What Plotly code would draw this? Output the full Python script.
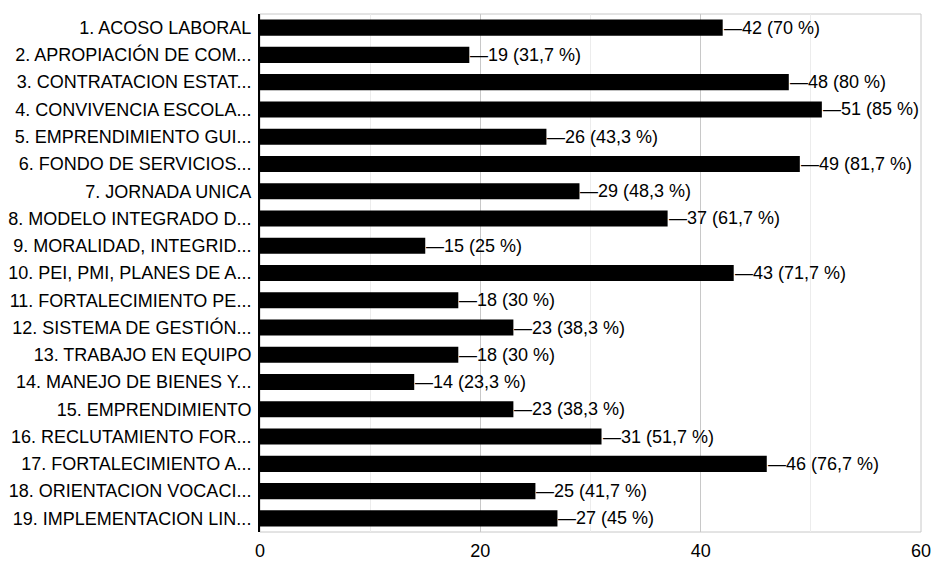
import plotly.graph_objects as go

categories = [
    "1. ACOSO LABORAL",
    "2. APROPIACIÓN DE COM...",
    "3. CONTRATACION ESTAT...",
    "4. CONVIVENCIA ESCOLA...",
    "5. EMPRENDIMIENTO GUI...",
    "6. FONDO DE SERVICIOS...",
    "7. JORNADA UNICA",
    "8. MODELO INTEGRADO D...",
    "9. MORALIDAD, INTEGRID...",
    "10. PEI, PMI, PLANES DE A...",
    "11. FORTALECIMIENTO PE...",
    "12. SISTEMA DE GESTIÓN...",
    "13. TRABAJO EN EQUIPO",
    "14. MANEJO DE BIENES Y...",
    "15. EMPRENDIMIENTO",
    "16. RECLUTAMIENTO FOR...",
    "17. FORTALECIMIENTO A...",
    "18. ORIENTACION VOCACI...",
    "19. IMPLEMENTACION LIN...",
]
counts = [42, 19, 48, 51, 26, 49, 29, 37, 15, 43, 18, 23, 18, 14, 23, 31, 46, 25, 27]
percents = ["70", "31,7", "80", "85", "43,3", "81,7", "48,3", "61,7", "25", "71,7",
            "30", "38,3", "30", "23,3", "38,3", "51,7", "76,7", "41,7", "45"]
x_ticks = [0, 20, 40, 60]

FONT = "Liberation Sans, Arial, sans-serif"

fig = go.Figure()
fig.add_trace(go.Bar(
    x=counts, y=categories, orientation="h",
    marker=dict(color="#000000", line=dict(width=0)),
    hoverinfo="skip",
))

for c, v, p in zip(categories, counts, percents):
    fig.add_annotation(
        x=v, y=c, xref="x", yref="y",
        text=f"—{v} ({p} %)", showarrow=False,
        xanchor="left", yanchor="middle",
        font=dict(family=FONT, size=18, color="#000000"),
        borderpad=0,
    )

fig.add_shape(type="rect", xref="paper", yref="paper", x0=0, x1=1, y0=0, y1=1,
              line=dict(color="#c8c8c8", width=1), layer="below")

fig.update_layout(
    width=933, height=566,
    margin=dict(l=260, r=12, t=14, b=34),
    paper_bgcolor="white", plot_bgcolor="white",
    showlegend=False,
    bargap=0.41,
    font=dict(family=FONT, size=18, color="#000000"),
    xaxis=dict(
        range=[0, 60], tickvals=x_ticks, ticktext=[str(t) for t in x_ticks],
        showgrid=True, gridcolor="#c8c8c8", gridwidth=1,
        minor=dict(dtick=10, showgrid=True, gridcolor="#ececec"),
        zeroline=False, showline=False, ticks="",
        ticklabelstandoff=6,
        automargin=False,
        tickfont=dict(family=FONT, size=18, color="#000000"),
    ),
    yaxis=dict(
        categoryorder="array", categoryarray=categories,
        autorange="reversed",
        showgrid=False, zeroline=False,
        showline=True, linecolor="#000000", linewidth=2,
        ticks="", ticklabelstandoff=3,
        automargin=False,
        tickfont=dict(family=FONT, size=18, color="#000000"),
    ),
)

# remove the default page margin so the figure fills the window exactly
fig.write_html(
    "out.html",
    config={"displayModeBar": False},
    post_script="document.body.style.margin='0';document.body.style.overflow='hidden';",
)
